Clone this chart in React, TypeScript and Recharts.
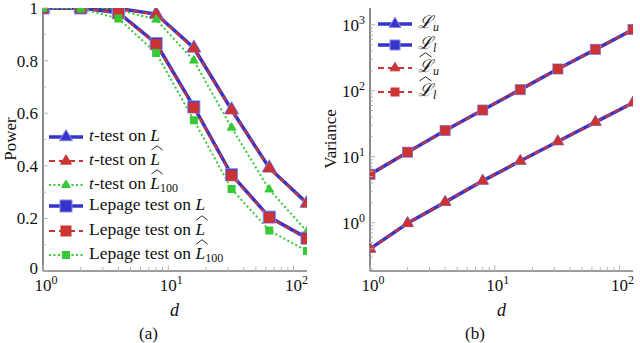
import React from "react";
import { LineChart, Line, XAxis, YAxis } from "recharts";

const dValues = [1, 2, 4, 8, 16, 32, 64, 128];

// power curves (left panel)
const tTestL = [1.0, 1.0, 0.998, 0.977, 0.848, 0.613, 0.392, 0.258];
const tTestLHat = [1.0, 1.0, 0.997, 0.975, 0.846, 0.611, 0.39, 0.256];
const tTestLHat100 = [1.0, 1.0, 0.993, 0.956, 0.8, 0.545, 0.31, 0.15];
const lepageL = [1.0, 1.0, 0.982, 0.865, 0.624, 0.366, 0.205, 0.125];
const lepageLHat = [1.0, 1.0, 0.98, 0.862, 0.621, 0.363, 0.203, 0.123];
const lepageLHat100 = [1.0, 0.998, 0.96, 0.829, 0.573, 0.312, 0.154, 0.076];

// variance curves (right panel)
const varLu = [0.4, 0.98, 2.05, 4.3, 8.6, 17.0, 33.5, 66];
const varLl = [5.4, 11.7, 25, 51, 104, 214, 425, 850];
const varLuHat = [0.4, 0.98, 2.05, 4.3, 8.6, 17.0, 33.5, 66];
const varLlHat = [5.4, 11.7, 25, 51, 104, 214, 425, 850];

// ticks
const xTicks = [1, 2, 3, 4, 5, 6, 7, 8, 9, 10, 20, 30, 40, 50, 60, 70, 80, 90, 100];
const xMajor = [1, 10, 100];
const powerTicks = [0, 0.1, 0.2, 0.3, 0.4, 0.5, 0.6, 0.7, 0.8, 0.9, 1];
const powerLabels = ["0", "", "0.2", "", "0.4", "", "0.6", "", "0.8", "", "1"];
const varTicks = [
  0.2, 0.3, 0.4, 0.5, 0.6, 0.7, 0.8, 0.9, 1, 2, 3, 4, 5, 6, 7, 8, 9, 10, 20, 30,
  40, 50, 60, 70, 80, 90, 100, 200, 300, 400, 500, 600, 700, 800, 900, 1000,
];
const varMajor = [1, 10, 100, 1000];

const FONT = '"Liberation Serif", "DejaVu Serif", serif';
const BLUE = "#3434cc";
const BLUE_EDGE = "#8a8ae4";
const RED = "#cc3434";
const GREEN = "#36c936";
const AXIS = "#3a3a3a";
const TICK = "#b4b4b4";

const powerData = dValues.map((d, i) => ({
  d,
  tL: tTestL[i],
  tLh: tTestLHat[i],
  tLh100: tTestLHat100[i],
  lL: lepageL[i],
  lLh: lepageLHat[i],
  lLh100: lepageLHat100[i],
}));

const varData = dValues.map((d, i) => ({
  d,
  lu: varLu[i],
  ll: varLl[i],
  luh: varLuHat[i],
  llh: varLlHat[i],
}));

function Mark({ shape, cx, cy, size, fill, stroke }: any) {
  if (shape === "tri") {
    const r = size / 1.6;
    const pts = `${cx},${cy - r} ${cx + 0.87 * r},${cy + 0.5 * r} ${cx - 0.87 * r},${cy + 0.5 * r}`;
    return <polygon points={pts} fill={fill} stroke={stroke} strokeWidth={1} />;
  }
  return (
    <rect x={cx - size / 2} y={cy - size / 2} width={size} height={size}
      fill={fill} stroke={stroke} strokeWidth={1} />
  );
}

const dot = (shape: string, size: number, fill: string, stroke: string) => (p: any) => {
  if (p.cx == null || p.cy == null) return <g key={p.index} />;
  return <Mark key={p.index} shape={shape} cx={p.cx} cy={p.cy} size={size} fill={fill} stroke={stroke} />;
};

function Pow10({ x, y, exp, anchor }: any) {
  return (
    <text x={x} y={y} textAnchor={anchor} fontFamily={FONT} fontSize={17} fill="#111">
      10<tspan dy={-7} fontSize={12}>{exp}</tspan>
    </text>
  );
}

function XTick({ x, y, payload }: any) {
  const v = payload.value;
  const major = xMajor.includes(v);
  return (
    <g>
      <line x1={x} x2={x} y1={y} y2={y - (major ? 6 : 4)} stroke={TICK} />
      {major && <Pow10 x={x + 3} y={y + 20} exp={Math.round(Math.log10(v))} anchor="middle" />}
    </g>
  );
}

function PowerTick({ x, y, payload, index }: any) {
  const label = powerLabels[index];
  return (
    <g>
      <line x1={x} x2={x + (label ? 5 : 3)} y1={y} y2={y} stroke={TICK} />
      {label && (
        <text x={x - 5} y={y + (index === 0 ? 3 : 6)} textAnchor="end" fontFamily={FONT} fontSize={17} fill="#111">
          {label}
        </text>
      )}
    </g>
  );
}

function VarTick({ x, y, payload }: any) {
  const v = payload.value;
  const major = varMajor.includes(v);
  return (
    <g>
      <line x1={x} x2={x + (major ? 5 : 3)} y1={y} y2={y} stroke={TICK} />
      {major && <Pow10 x={x - 5} y={y + 6} exp={Math.round(Math.log10(v))} anchor="end" />}
    </g>
  );
}

function Hat({ children, w = 12 }: any) {
  return (
    <span style={{ position: "relative", display: "inline-block" }}>
      <svg width={w} height={6} style={{ position: "absolute", left: 1, top: -4 }}>
        <polyline points={`0.5,5 ${w / 2},0.8 ${w - 0.5},5`} fill="none" stroke="#111" strokeWidth={0.9} />
      </svg>
      {children}
    </span>
  );
}

const I = ({ children }: any) => <i>{children}</i>;
const Sub = ({ children }: any) => (
  <span style={{ fontSize: 12, position: "relative", top: 3 }}>{children}</span>
);
const Lc = "\u2112";

function Sample({ color, dash, width, shape, size, edge }: any) {
  return (
    <svg width={36} height={16} style={{ verticalAlign: "middle", marginRight: 5 }}>
      <line x1={1} x2={35} y1={8} y2={8} stroke={color} strokeWidth={width} strokeDasharray={dash} />
      <Mark shape={shape} cx={18} cy={8} size={size} fill={color} stroke={edge} />
    </svg>
  );
}

const powerLegend = [
  { s: { color: BLUE, width: 3.5, shape: "tri", size: 12, edge: BLUE_EDGE }, label: <><I>t</I>-test on <I>L</I></> },
  { s: { color: RED, width: 2, dash: "6 4", shape: "tri", size: 10, edge: RED }, label: <><I>t</I>-test on <Hat><I>L</I></Hat></> },
  { s: { color: GREEN, width: 2, dash: "2 2.5", shape: "tri", size: 8, edge: GREEN }, label: <><I>t</I>-test on <Hat><I>L</I></Hat><Sub>100</Sub></> },
  { s: { color: BLUE, width: 3.5, shape: "sq", size: 12, edge: BLUE_EDGE }, label: <>Lepage test on <I>L</I></> },
  { s: { color: RED, width: 2, dash: "6 4", shape: "sq", size: 10, edge: RED }, label: <>Lepage test on <Hat><I>L</I></Hat></> },
  { s: { color: GREEN, width: 2, dash: "2 2.5", shape: "sq", size: 7, edge: GREEN }, label: <>Lepage test on <Hat><I>L</I></Hat><Sub>100</Sub></> },
];

const varLegend = [
  { s: { color: BLUE, width: 3.5, shape: "tri", size: 11, edge: BLUE_EDGE }, label: <><I>{Lc}</I><Sub><I>u</I></Sub></> },
  { s: { color: BLUE, width: 3.5, shape: "sq", size: 10, edge: BLUE_EDGE }, label: <><I>{Lc}</I><Sub><I>l</I></Sub></> },
  { s: { color: RED, width: 2, dash: "6 4", shape: "tri", size: 9, edge: RED }, label: <><Hat w={13}><I>{Lc}</I></Hat><Sub><I>u</I></Sub></> },
  { s: { color: RED, width: 2, dash: "6 4", shape: "sq", size: 8, edge: RED }, label: <><Hat w={13}><I>{Lc}</I></Hat><Sub><I>l</I></Sub></> },
];

function LegendBox({ items, left, top, gaps }: any) {
  return (
    <div style={{ position: "absolute", left, top, fontFamily: FONT, fontSize: 17.5, color: "#111" }}>
      {items.map((it: any, i: number) => (
        <div key={i} style={{ position: "absolute", top: gaps[i], whiteSpace: "nowrap", lineHeight: "20px" }}>
          <Sample {...it.s} />
          {it.label}
        </div>
      ))}
    </div>
  );
}

const textStyle: React.CSSProperties = {
  position: "absolute",
  fontFamily: FONT,
  fontSize: 17,
  color: "#111",
  whiteSpace: "nowrap",
};

export default function App() {
  return (
    <div style={{ position: "absolute", left: 0, top: 0, width: 640, height: 343, background: "#fff", overflow: "hidden" }}>
      <div style={{ position: "absolute", left: 0, top: 0 }}>
        <LineChart width={320} height={343} data={powerData} margin={{ top: 8, right: 13, bottom: 0, left: 0 }}>
          <XAxis dataKey="d" type="number" scale="log" domain={[1, 128]} allowDataOverflow
            ticks={xTicks} interval={0} tickSize={0} tickMargin={0} tickLine={false}
            axisLine={{ stroke: AXIS, strokeWidth: 1.2 }} tick={<XTick />} height={72} />
          <YAxis type="number" domain={[0, 1]} allowDataOverflow ticks={powerTicks} interval={0}
            tickSize={0} tickMargin={0} tickLine={false} axisLine={{ stroke: AXIS, strokeWidth: 1.2 }}
            tick={<PowerTick />} width={43} />
          <Line dataKey="tL" stroke={BLUE} strokeWidth={3.5} isAnimationActive={false} activeDot={false}
            dot={dot("tri", 13, BLUE, BLUE_EDGE)} />
          <Line dataKey="tLh" stroke={RED} strokeWidth={2} strokeDasharray="6 4" isAnimationActive={false} activeDot={false}
            dot={dot("tri", 10.5, RED, RED)} />
          <Line dataKey="tLh100" stroke={GREEN} strokeWidth={2} strokeDasharray="2 2.5" isAnimationActive={false} activeDot={false}
            dot={dot("tri", 8, GREEN, GREEN)} />
          <Line dataKey="lL" stroke={BLUE} strokeWidth={3.5} isAnimationActive={false} activeDot={false}
            dot={dot("sq", 12, BLUE, BLUE_EDGE)} />
          <Line dataKey="lLh" stroke={RED} strokeWidth={2} strokeDasharray="6 4" isAnimationActive={false} activeDot={false}
            dot={dot("sq", 9.5, RED, RED)} />
          <Line dataKey="lLh100" stroke={GREEN} strokeWidth={2} strokeDasharray="2 2.5" isAnimationActive={false} activeDot={false}
            dot={dot("sq", 7, GREEN, GREEN)} />
        </LineChart>
      </div>

      <div style={{ position: "absolute", left: 320, top: 0 }}>
        <LineChart width={320} height={343} data={varData} margin={{ top: 8, right: 7, bottom: 0, left: 0 }}>
          <XAxis dataKey="d" type="number" scale="log" domain={[1, 128]} allowDataOverflow
            ticks={xTicks} interval={0} tickSize={0} tickMargin={0} tickLine={false}
            axisLine={{ stroke: AXIS, strokeWidth: 1.2 }} tick={<XTick />} height={72} />
          <YAxis type="number" scale="log" domain={[0.185, 1800]} allowDataOverflow ticks={varTicks} interval={0}
            tickSize={0} tickMargin={0} tickLine={false} axisLine={{ stroke: AXIS, strokeWidth: 1.2 }}
            tick={<VarTick />} width={50} />
          <Line dataKey="lu" stroke={BLUE} strokeWidth={3.5} isAnimationActive={false} activeDot={false}
            dot={dot("tri", 11, BLUE, BLUE_EDGE)} />
          <Line dataKey="ll" stroke={BLUE} strokeWidth={3.5} isAnimationActive={false} activeDot={false}
            dot={dot("sq", 10, BLUE, BLUE_EDGE)} />
          <Line dataKey="luh" stroke={RED} strokeWidth={2} strokeDasharray="6 4" isAnimationActive={false} activeDot={false}
            dot={dot("tri", 9.5, RED, RED)} />
          <Line dataKey="llh" stroke={RED} strokeWidth={2} strokeDasharray="6 4" isAnimationActive={false} activeDot={false}
            dot={dot("sq", 8.5, RED, RED)} />
        </LineChart>
      </div>

      <LegendBox items={powerLegend} left={48} top={125} gaps={[0, 24, 48, 69, 94, 118]} />
      <LegendBox items={varLegend} left={377} top={12} gaps={[0, 21, 44, 68]} />

      <div style={{ ...textStyle, left: -14, top: 129, transform: "rotate(-90deg)", width: 50, textAlign: "center" }}>Power</div>
      <div style={{ ...textStyle, left: 298, top: 129, transform: "rotate(-90deg)", width: 66, textAlign: "center" }}>Variance</div>
      <div style={{ ...textStyle, left: 170, top: 300, fontStyle: "italic", fontSize: 18 }}>d</div>
      <div style={{ ...textStyle, left: 497, top: 300, fontStyle: "italic", fontSize: 18 }}>d</div>
      <div style={{ ...textStyle, left: 139, top: 324 }}>(a)</div>
      <div style={{ ...textStyle, left: 465, top: 324 }}>(b)</div>
    </div>
  );
}
